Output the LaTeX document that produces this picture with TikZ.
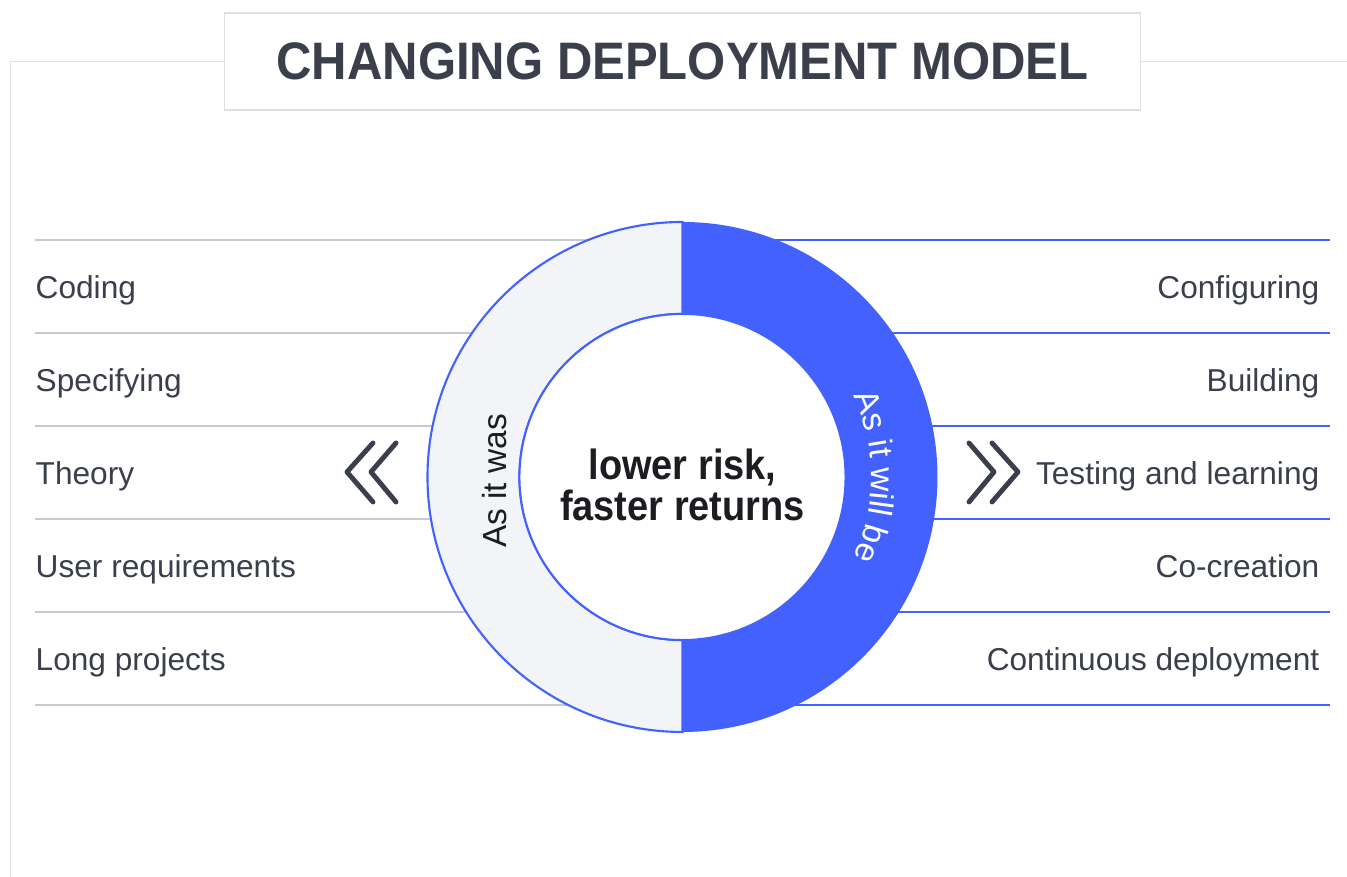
\documentclass[tikz,border=0pt]{standalone}
\usepackage{fontspec}
\setmainfont{Liberation Sans}
\usetikzlibrary{decorations.text}

\definecolor{ringblue}{HTML}{4361FF}
\definecolor{ringpale}{HTML}{F3F4F8}
\definecolor{rulegray}{HTML}{C5C9D1}
\definecolor{framegray}{HTML}{DDDFE4}
\definecolor{inkgray}{HTML}{3A3F4B}
\definecolor{inkdark}{HTML}{1C1D21}

\newcommand{\narrowed}[1]{\scalebox{0.9}[1]{#1}}

\tikzset{
  frame/.style={draw=framegray, line width=0.4pt},
  item/.style={inner sep=0pt, text=inkgray, font=\fontsize{9}{11}\selectfont},
  chevron/.style={draw=inkgray, line width=1.4pt, line cap=round, line join=round},
}

\begin{document}
\begin{tikzpicture}[x=0.01cm,y=0.01cm]
\useasboundingbox (0,0) rectangle (1347,877);

% title and frame
\node[frame, minimum width=9.15cm, minimum height=0.97cm, text=inkgray] (title) at (682.5,815.5)
  {\scalebox{0.93}[1]{\bfseries\fontsize{15}{18}\selectfont CHANGING DEPLOYMENT MODEL}};
\draw[frame] (title.west) -- (10.5,815.5) -- (10.5,0);
\draw[frame] (title.east) -- (1347,815.5);

% rules between the rows
\foreach \y in {637,544,451,358,265,172} {
  \draw[rulegray, line width=0.6pt] (35,\y) -- (682.5,\y);
  \draw[ringblue, line width=0.6pt] (682.5,\y) -- (1330,\y);
}

% rows
\foreach \t [count=\i] in {Coding,Specifying,Theory,User requirements,Long projects}
  \node[item, anchor=base west] (old\i) at (35,671-93*\i) {\t};
\foreach \t [count=\i] in {Configuring,Building,Testing and learning,Co-creation,Continuous deployment}
  \node[item, anchor=base east] (new\i) at (1320,671-93*\i) {\t};

% ring
\filldraw[fill=ringpale, draw=ringblue, line width=0.6pt] (682.5,655) arc[start angle=90, end angle=270, radius=255]
  -- (682.5,237) arc[start angle=270, end angle=90, radius=163] -- cycle;
\fill[ringblue] (682.5,655) arc[start angle=90, end angle=-90, radius=255]
  -- (682.5,237) arc[start angle=-90, end angle=90, radius=163] -- cycle;
\node[shape=circle, draw=ringblue, fill=white, line width=0.6pt, minimum size=3.26cm, inner sep=0pt] (core) at (682.5,400) {};
\node[align=center, text=inkdark, font=\bfseries\fontsize{12}{10.5}\selectfont] (gain) at (682.5,392)
  {\narrowed{lower risk,}\\\narrowed{faster returns}};

% ring captions
\node[rotate=90, inner sep=0pt, text=inkdark, font=\fontsize{9.5}{11}\selectfont] (was) at (495,396) {As it was};
\path[decorate, decoration={text along path, text align=center,
  text={|\color{white}\fontsize{9.5}{11}\selectfont|As it will be}}]
  (682.5,400) ++(40:189) arc[start angle=40, end angle=-40, radius=189];

% chevrons
\draw[chevron] (373,434) -- (347,405) -- (373,375);
\draw[chevron] (396,434) -- (371,405) -- (396,375);
\draw[chevron] (969,434) -- (994,405) -- (969,375);
\draw[chevron] (992,434) -- (1018,405) -- (992,375);
\end{tikzpicture}
\end{document}
